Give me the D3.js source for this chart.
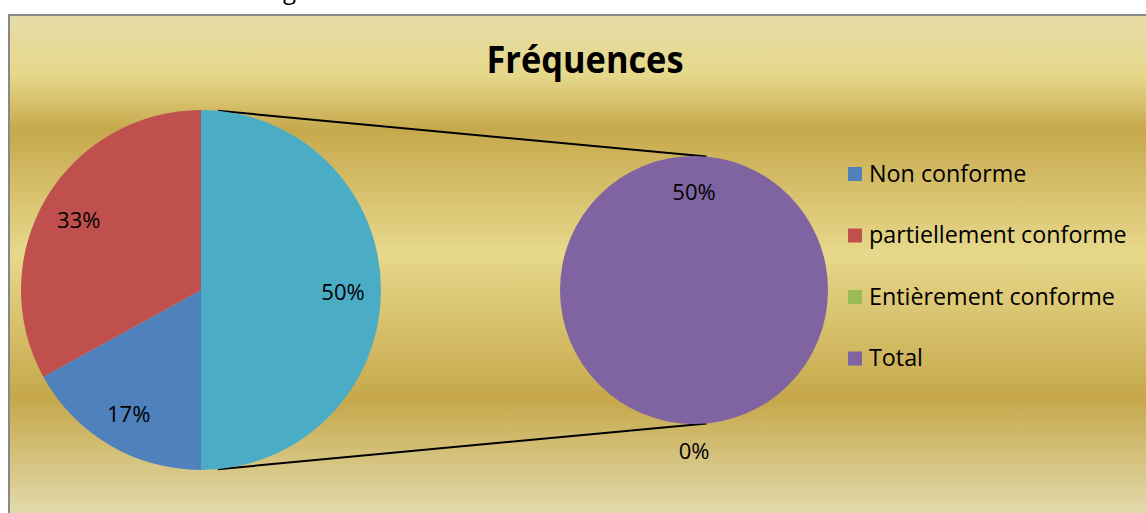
<!DOCTYPE html>
<html>
<head>
  <meta charset="utf-8">
  <title>Fréquences</title>
  <script src="https://d3js.org/d3.v7.min.js"></script>
  <style>
    body { margin: 0; background: white; }
    text { font-family: "Open Sans", "Noto Sans", sans-serif; fill: #000; }
  </style>
</head>
<body>
  <div id="chart"></div>
  <script>
    // data (shares in %)
    var categories = ["Non conforme", "partiellement conforme", "Entièrement conforme", "Total"];
    var values = [17, 33, 0, 50];
    var colors = ["#4F81BD", "#C0504D", "#9BBB59", "#8064A2"];
    var otherColor = "#4BACC6";
    var secondCount = 2; // last two categories go into the second pie
    var title = "Fréquences";

    var width = 1146, height = 513;
    var svg = d3.select("#chart").append("svg")
      .attr("width", width)
      .attr("height", height);

    // gold gradient background
    var grad = svg.append("defs").append("linearGradient")
      .attr("id", "gold")
      .attr("gradientUnits", "userSpaceOnUse")
      .attr("x1", 0).attr("y1", 15).attr("x2", 0).attr("y2", 513);
    [[0, "#e6dca8"], [0.12, "#e6d88a"], [0.23, "#c7a94d"], [0.48, "#e7d88b"],
     [0.77, "#c6a84b"], [1, "#e2daab"]].forEach(function (s) {
      grad.append("stop").attr("offset", s[0]).attr("stop-color", s[1]);
    });

    // bit of text from the line above the frame
    svg.append("text").attr("x", 283).attr("y", -1)
      .style("font-size", "24px").text("g");

    svg.append("rect")
      .attr("x", 9).attr("y", 15)
      .attr("width", width + 20).attr("height", height + 20)
      .attr("fill", "url(#gold)")
      .attr("stroke", "#888888")
      .attr("stroke-width", 2);

    svg.append("text")
      .attr("x", 585).attr("y", 73)
      .attr("text-anchor", "middle")
      .attr("textLength", 197)
      .attr("lengthAdjust", "spacingAndGlyphs")
      .style("font-size", "37px")
      .style("font-weight", "bold")
      .text(title);

    var total = d3.sum(values);
    var pct = d3.format(".0%");
    var mainIdx = d3.range(categories.length - secondCount);
    var subIdx = d3.range(categories.length - secondCount, categories.length);

    var mainData = mainIdx.map(function (i) {
      return { name: categories[i], value: values[i], color: colors[i] };
    });
    mainData.push({
      name: "Autre",
      value: d3.sum(subIdx, function (i) { return values[i]; }),
      color: otherColor
    });
    var subData = subIdx.map(function (i) {
      return { name: categories[i], value: values[i], color: colors[i] };
    });

    var pie = d3.pie().sort(null).value(function (d) { return d.value; })
      .startAngle(Math.PI).endAngle(3 * Math.PI);

    var c1 = { x: 201, y: 290, r: 180 };
    var c2 = { x: 694, y: 290, r: 134 };

    // connector lines: outer tangents of the two circles
    var th = Math.asin((c1.r - c2.r) / (c2.x - c1.x));
    [-1, 1].forEach(function (s) {
      svg.append("line")
        .attr("x1", c1.x + c1.r * Math.sin(th))
        .attr("y1", c1.y + s * c1.r * Math.cos(th))
        .attr("x2", c2.x + c2.r * Math.sin(th))
        .attr("y2", c2.y + s * c2.r * Math.cos(th))
        .attr("stroke", "#000")
        .attr("stroke-width", 2);
    });

    function drawPie(data, c, inner, outer) {
      var g = svg.append("g").attr("transform", "translate(" + c.x + "," + c.y + ")");
      var arc = d3.arc().innerRadius(0).outerRadius(c.r);
      var arcs = pie(data);
      g.selectAll("path").data(arcs).enter().append("path")
        .attr("d", arc)
        .attr("fill", function (d) { return d.data.color; });
      var lblIn = d3.arc().innerRadius(inner).outerRadius(inner);
      var lblOut = d3.arc().innerRadius(outer).outerRadius(outer);
      g.selectAll("text").data(arcs).enter().append("text")
        .attr("transform", function (d) {
          var p = (d.data.value === 0 ? lblOut : lblIn).centroid(d);
          return "translate(" + p[0] + "," + p[1] + ")";
        })
        .attr("text-anchor", "middle")
        .attr("dy", "0.45em")
        .style("font-size", "22px")
        .text(function (d) { return pct(d.data.value / total); });
    }
    drawPie(mainData, c1, 142, 200);
    drawPie(subData, c2, 100, 159);

    // legend
    var legend = svg.append("g");
    var rows = legend.selectAll("g").data(categories).enter().append("g")
      .attr("transform", function (d, i) { return "translate(848," + (167 + i * 61.5) + ")"; });
    rows.append("rect")
      .attr("width", 14).attr("height", 14)
      .attr("fill", function (d, i) { return colors[i]; });
    rows.append("text")
      .attr("x", 21).attr("y", 14.5)
      .style("font-size", "23.3px")
      .text(function (d) { return d; });
  </script>
</body>
</html>
